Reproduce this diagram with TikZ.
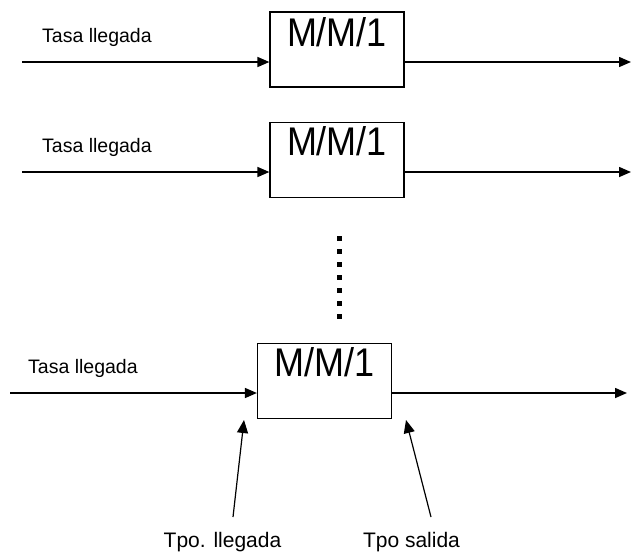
\documentclass[tikz,border=0pt]{standalone}
\usepackage{fontspec}
\setmainfont{Liberation Sans}
\newfontfamily\boxfont[FakeStretch=0.9]{Liberation Sans}
\usetikzlibrary{arrows.meta}

\begin{document}
\begin{tikzpicture}[x=1pt, y=-1pt,
                    queue/.style={draw, line width=1.2pt, minimum width=134pt, minimum height=75pt, inner sep=0pt},
                    qname/.style={font=\boxfont\fontsize{40}{40}\selectfont, inner sep=0pt, anchor=base},
                    rate/.style={font=\fontsize{19.5}{19.5}\selectfont, inner sep=0pt, anchor=base west},
                    tlabel/.style={font=\fontsize{21}{21}\selectfont, inner sep=0pt, anchor=base},
                    flow/.style={line width=1.5pt, -{Triangle[length=12pt, width=10pt]}},
                    pointer/.style={line width=1.2pt, -{Triangle[length=13pt, width=11pt]}}]
  \useasboundingbox (0,0) rectangle (631,552);

  % first server
  \node[queue] (q1) at (337,49.5) {};
  \node[qname] (n1) at ([yshift=-35pt]q1.north) {M/M/1};
  \node[rate] (r1) at (42,42) {Tasa llegada};
  \coordinate (in1) at (22,62);
  \coordinate (out1) at (631,62);
  \draw[flow] (in1) -- (q1.west |- in1);
  \draw[flow] (q1.east |- out1) -- (out1);

  % second server
  \node[queue] (q2) at (337,160) {};
  \node[qname] (n2) at ([yshift=-34pt]q2.north) {M/M/1};
  \node[rate] (r2) at (42,152) {Tasa llegada};
  \coordinate (in2) at (22,172);
  \coordinate (out2) at (631,172);
  \draw[flow] (in2) -- (q2.west |- in2);
  \draw[flow] (q2.east |- out2) -- (out2);

  % more servers
  \draw[line width=5pt, dash pattern=on 5pt off 8pt] (339,236) -- (339,320);

  % last server
  \node[queue] (q3) at (324.5,381) {};
  \node[qname] (n3) at ([yshift=-34pt]q3.north) {M/M/1};
  \node[rate] (r3) at (28,373) {Tasa llegada};
  \coordinate (in3) at (10,393);
  \coordinate (out3) at (627,393);
  \draw[flow] (in3) -- (q3.west |- in3);
  \draw[flow] (q3.east |- out3) -- (out3);

  % times
  \node[tlabel] (ta) at (222.5,547) {Tpo. llegada};
  \node[tlabel] (ts) at (411.5,547) {Tpo salida};
  \coordinate (pa) at (233,517);
  \coordinate (ps) at (431,517);
  \coordinate (ea) at (244,420);
  \coordinate (es) at (406,420);
  \draw[pointer] (pa) -- (ea);
  \draw[pointer] (ps) -- (es);
\end{tikzpicture}
\end{document}
